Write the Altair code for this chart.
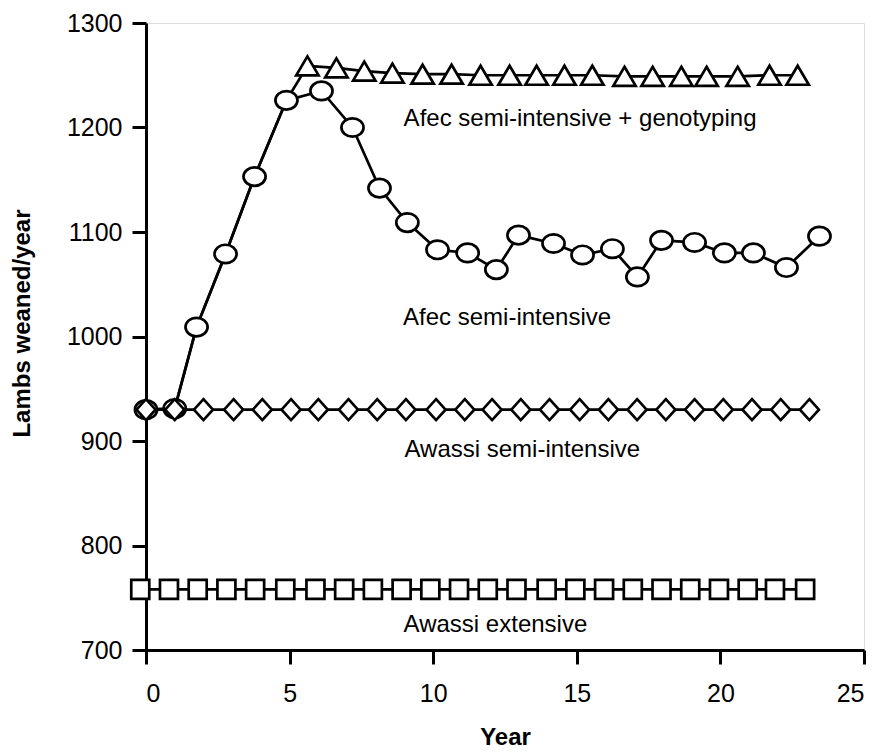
import altair as alt
import pandas as pd

# ---- data ----
circle_years = [0, 1.0, 1.76, 2.77, 3.78, 4.89, 6.11, 7.19, 8.13, 9.1, 10.15, 11.2,
                12.2, 12.97, 14.19, 15.2, 16.24, 17.11, 17.95, 19.1, 20.14, 21.15, 22.3, 23.45]
circle_vals = [930, 931, 1009, 1079, 1153, 1226, 1235, 1200, 1142, 1109, 1083, 1080,
               1064, 1097, 1089, 1078, 1084, 1057, 1092, 1090, 1080, 1080, 1066, 1096]

tri_years = [5.62, 6.63, 7.6, 8.58, 9.63, 10.64, 11.65, 12.66, 13.6, 14.57, 15.54,
             16.66, 17.64, 18.64, 19.52, 20.6, 21.71, 22.69]
tri_vals = [1259, 1257, 1254, 1252, 1251, 1251, 1250, 1250, 1250, 1250, 1250,
            1249, 1249, 1249, 1249, 1249, 1250, 1250]

diamond_years = [0, 1.0, 2.0, 3.05, 4.05, 5.05, 6.0, 7.05, 8.05, 9.05, 10.1, 11.1,
                 12.05, 13.05, 14.05, 15.1, 16.1, 17.1, 18.1, 19.1, 20.1, 21.1, 22.1, 23.1]
diamond_vals = [930] * 24

square_years = [-0.2, 0.8, 1.8, 2.8, 3.8, 4.85, 5.9, 6.9, 7.9, 8.9, 9.9, 10.9,
                11.9, 12.9, 13.95, 14.95, 15.95, 16.95, 17.95, 18.95, 19.95, 20.95, 21.9, 22.95]
square_vals = [758] * 24

label_texts = ["Afec semi-intensive + genotyping", "Afec semi-intensive",
               "Awassi semi-intensive", "Awassi extensive"]
label_x = [8.97, 8.95, 9.0, 8.97]
label_y = [1201, 1011, 885, 717]

x_ticks = [0, 5, 10, 15, 20, 25]
y_ticks = [700, 800, 900, 1000, 1100, 1200, 1300]

# ---- tables ----
def frame(name, xs, ys):
    return pd.DataFrame({"series": name, "year": xs, "value": ys, "idx": range(len(xs))})

circles = frame("Afec semi-intensive", circle_years, circle_vals)
geno_line = frame("Afec semi-intensive + genotyping",
                  circle_years[:6] + tri_years, circle_vals[:6] + tri_vals)
triangles = frame("Afec semi-intensive + genotyping", tri_years, tri_vals)
diamonds = frame("Awassi semi-intensive", diamond_years, diamond_vals)
squares = frame("Awassi extensive", square_years, square_vals)
lines_df = pd.concat([circles, geno_line, diamonds, squares], ignore_index=True)
labels_df = pd.DataFrame({"text": label_texts, "year": label_x, "value": label_y})

FONT = "Liberation Sans"

xenc = alt.X("year:Q",
             scale=alt.Scale(domain=[0, 25], nice=False, zero=False),
             axis=alt.Axis(values=x_ticks, title="Year", grid=False, tickSize=14,
                           tickWidth=3, domainWidth=3, tickColor="black",
                           domainColor="black", labelColor="black", format="d",
                           labelFontSize=25, labelFont=FONT, labelPadding=17,
                           titleFont=FONT, titleFontSize=24, titleFontWeight="bold",
                           titleColor="black", titlePadding=19))
yenc = alt.Y("value:Q",
             scale=alt.Scale(domain=[700, 1300], nice=False, zero=False),
             axis=alt.Axis(values=y_ticks, title="Lambs weaned/year", grid=False,
                           tickSize=14, tickWidth=3, domainWidth=3, tickColor="black",
                           domainColor="black", labelColor="black", format="d",
                           labelFontSize=25, labelFont=FONT, labelPadding=10,
                           titleFont=FONT, titleFontSize=24, titleFontWeight="bold",
                           titleColor="black", titleX=-124, titleY=300,
                           titleBaseline="middle", titleAlign="center"))

base = alt.Chart(lines_df)
lines = base.mark_line(color="black", strokeWidth=2.7).encode(
    x=xenc, y=yenc, detail="series:N", order="idx:Q")

ELLIPSE = "M-1.2,0A1.2,1 0 1,1 1.2,0A1.2,1 0 1,1 -1.2,0Z"
TRI = "M0,-0.85L1,0.85L-1,0.85Z"
DIAM = "M0,-1.1L1,0L0,1.1L-1,0Z"
SQ = "M-1,-1.05L1,-1.05L1,1.05L-1,1.05Z"

def pts(df, shape, size):
    return alt.Chart(df).mark_point(shape=shape, size=size, filled=True, fill="white",
                                    stroke="black", strokeWidth=2.7, opacity=1).encode(
        x="year:Q", y="value:Q")

sq_pts = pts(squares, SQ, 324)
tri_pts = pts(triangles, TRI, 500)
circ_pts = pts(circles, ELLIPSE, 340)
diam_pts = pts(diamonds, DIAM, 361)

texts = alt.Chart(labels_df).mark_text(align="left", baseline="alphabetic", font=FONT,
                                       fontSize=24, color="black").encode(
    x="year:Q", y="value:Q", text="text:N")

chart = alt.layer(lines, sq_pts, tri_pts, circ_pts, diam_pts, texts).properties(
    width=718, height=627,
    autosize=alt.AutoSizeParams(type="none"),
    padding={"left": 138, "top": 15, "right": 10, "bottom": 106},
).configure_view(stroke="black", strokeWidth=3).configure(background="white")

chart.save("out.html", embed_options={"renderer": "svg", "actions": False})
